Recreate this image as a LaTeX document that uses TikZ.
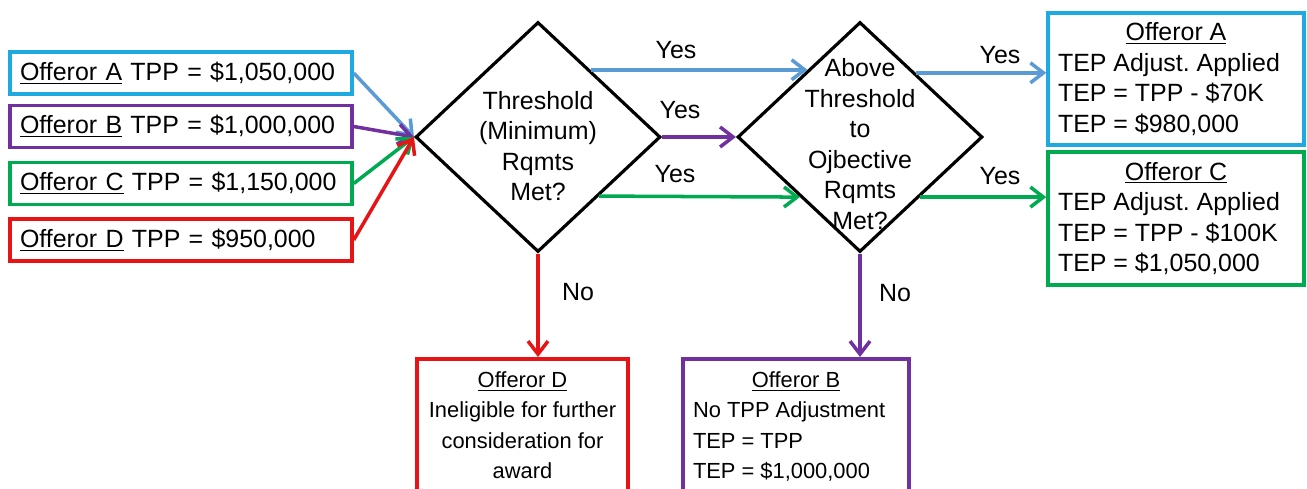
\documentclass[tikz,border=0pt]{standalone}
\usepackage{fontspec}
\setmainfont{Liberation Sans}
\usetikzlibrary{shapes.geometric,arrows.meta}
\definecolor{boxcyan}{RGB}{30,170,225}
\definecolor{arrblue}{RGB}{91,155,213}
\definecolor{purp}{RGB}{112,48,160}
\definecolor{grn}{RGB}{0,170,80}
\definecolor{rd}{RGB}{230,20,20}
\frenchspacing

\begin{document}
\begin{tikzpicture}[x=0.02cm,y=-0.02cm,
  font=\fontsize{14.2}{17.4}\selectfont,
  inbox/.style={draw,line width=2pt,minimum width=6.84cm,minimum height=0.84cm,
    text width=6.44cm,align=left,inner xsep=0.2cm},
  outbox/.style={draw,line width=2pt,align=left,inner xsep=0.2cm,inner ysep=0.16cm},
  lowbox/.style={outbox,font=\fontsize{12.45}{17.2}\selectfont,anchor=north,inner ysep=0.26cm},
  decision/.style={draw,diamond,line width=1.8pt,minimum width=4.9cm,minimum height=4.6cm,inner sep=0pt},
  arr/.style={line width=2pt,-{Straight Barb[length=2.6mm,width=4mm]}},
  lbl/.style={inner sep=0pt}]
\useasboundingbox (0,0) rectangle (1307,489);

\node[inbox,draw=boxcyan] (inA) at (181,73) {\underline{Offeror A} TPP = \$1,050,000};
\node[inbox,draw=purp] (inB) at (181,126.5) {\underline{Offeror B} TPP = \$1,000,000};
\node[inbox,draw=grn] (inC) at (181,183.5) {\underline{Offeror C} TPP = \$1,150,000};
\node[inbox,draw=rd] (inD) at (181,240) {\underline{Offeror D} TPP = \$950,000};

\node[decision] (thr) at (538,137) {};
\node[align=center] (thrtxt) at (538,146) {Threshold\\(Minimum)\\Rqmts\\Met?};
\node[decision] (obj) at (860,137) {};
\node[align=center] (objtxt) at (860,144) {Above\\Threshold\\to\\Ojbective\\Rqmts\\Met?};

\node[outbox,draw=boxcyan,minimum height=2.64cm] (outA) at (1176,79)
  {\makebox[4.72cm]{\underline{Offeror A}}\\TEP Adjust. Applied\\TEP = TPP - \$70K\\TEP = \$980,000};
\node[outbox,draw=grn,minimum height=2.66cm] (outC) at (1176,218.5)
  {\makebox[4.72cm]{\underline{Offeror C}}\\TEP Adjust. Applied\\TEP = TPP - \$100K\\TEP = \$1,050,000};
\node[lowbox,draw=rd,align=center,minimum width=4.22cm] (outD) at (522.5,357)
  {\underline{Offeror D}\\Ineligible for further\\consideration for\\award};
\node[lowbox,draw=purp] (outB) at (796,357)
  {\makebox[4.12cm]{\underline{Offeror B}}\\No TPP Adjustment\\TEP = TPP\\TEP = \$1,000,000};

\draw[arr,arrblue] (inA.east) -- (thr.west);
\draw[arr,purp] (inB.east) -- (thr.west);
\draw[arr,grn] (inC.east) -- (thr.west);
\draw[arr,rd] (inD.east) -- (thr.west);

\draw[arr,arrblue] (thr.52) -- (obj.128);
\draw[arr,purp] (thr.east) -- (obj.west);
\draw[arr,grn] (thr.-44.5) -- (obj.-135.5);
\draw[arr,arrblue] (obj.49) -- (obj.49 -| outA.west);
\draw[arr,grn] (obj.-45) -- (obj.-45 -| outC.west);
\draw[arr,rd] (thr.south) -- (thr.south |- outD.north);
\draw[arr,purp] (obj.south) -- (obj.south |- outB.north);

\node[lbl] (yes1) at (676,50) {Yes};
\node[lbl] (yes2) at (680,110) {Yes};
\node[lbl] (yes3) at (675,174) {Yes};
\node[lbl] (yes4) at (1000,55) {Yes};
\node[lbl] (yes5) at (1000,176) {Yes};
\node[lbl] (no1) at (578,292) {No};
\node[lbl] (no2) at (895,293) {No};
\end{tikzpicture}
\end{document}
